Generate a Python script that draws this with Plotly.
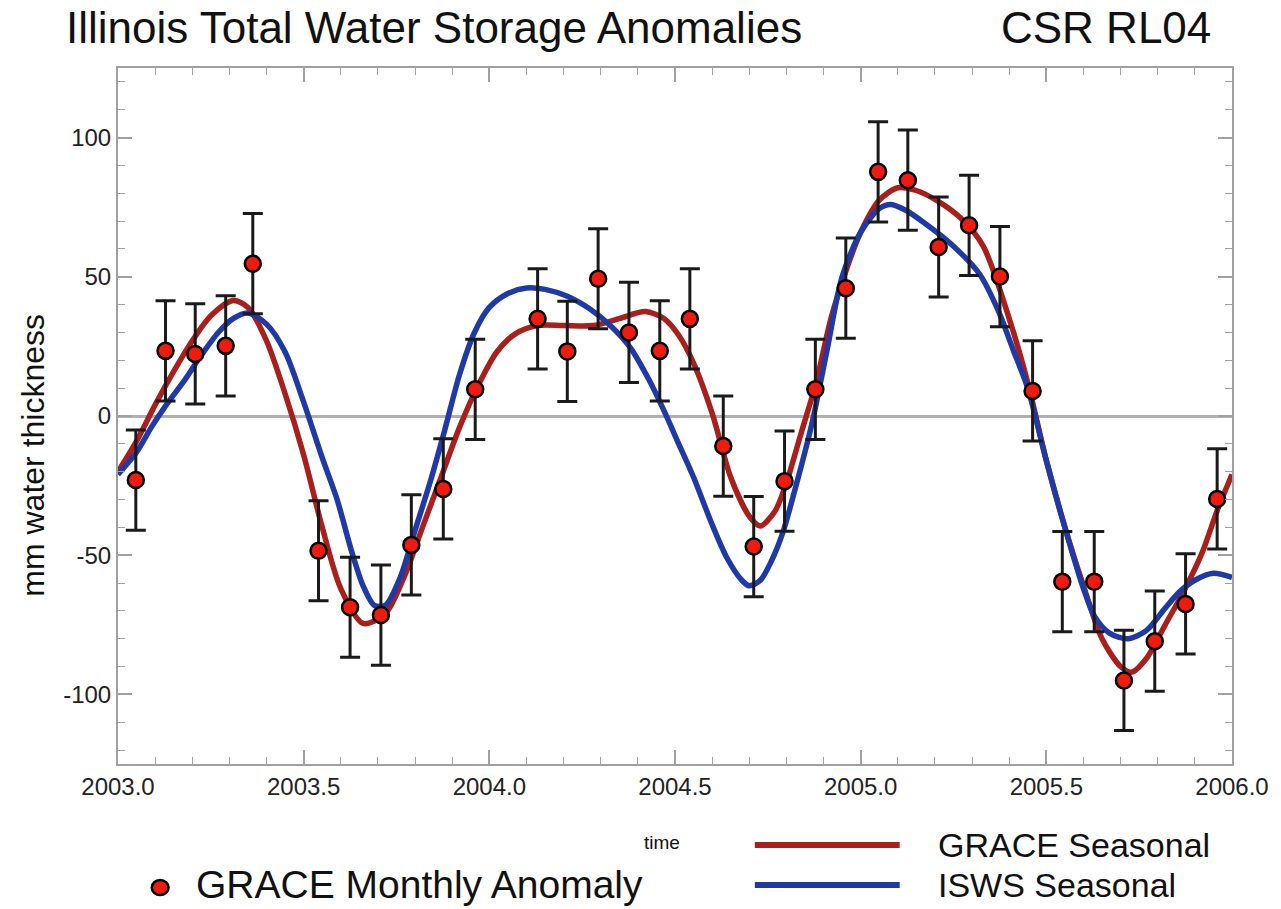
import plotly.graph_objects as go

# ---- data ----
month_t = [2003.048, 2003.128, 2003.208, 2003.290, 2003.363, 2003.540, 2003.625, 2003.708,
           2003.790, 2003.876, 2003.962, 2004.130, 2004.210, 2004.293, 2004.376, 2004.459,
           2004.540, 2004.630, 2004.712, 2004.795, 2004.878, 2004.960, 2005.047, 2005.127,
           2005.210, 2005.292, 2005.375, 2005.463, 2005.543, 2005.629, 2005.709, 2005.792,
           2005.875, 2005.960]
month_v = [-23.0, 23.4, 22.3, 25.2, 54.7, -48.4, -68.7, -71.5,
           -46.3, -26.2, 9.6, 34.9, 23.2, 49.3, 30.0, 23.4,
           34.9, -10.8, -46.9, -23.4, 9.6, 45.9, 87.7, 84.7,
           60.7, 68.5, 50.1, 9.0, -59.5, -59.5, -95.0, -80.9,
           -67.5, -29.8]
month_err = [18, 18, 18, 18, 18, 18, 18, 18,
             18, 18, 18, 18, 18, 18, 18, 18,
             18, 18, 18, 18, 18, 18, 18, 18,
             18, 18, 18, 18, 18, 18, 18, 18,
             18, 18]

grace_t = [2003.00, 2003.05, 2003.10, 2003.15, 2003.20, 2003.25, 2003.31, 2003.35, 2003.40,
           2003.45, 2003.50, 2003.55, 2003.60, 2003.66, 2003.72, 2003.77, 2003.82, 2003.87,
           2003.92, 2003.97, 2004.02, 2004.07, 2004.13, 2004.20, 2004.28, 2004.35, 2004.42,
           2004.47, 2004.51, 2004.55, 2004.60, 2004.65, 2004.70, 2004.73, 2004.77, 2004.80,
           2004.84, 2004.88, 2004.92, 2004.96, 2005.00, 2005.05, 2005.10, 2005.15, 2005.21,
           2005.27, 2005.33, 2005.40, 2005.45, 2005.50, 2005.55, 2005.60, 2005.65, 2005.70,
           2005.73, 2005.77, 2005.82, 2005.87, 2005.92, 2005.96, 2006.00]
grace_v = [-20, -9, 4, 16, 27, 36, 41.5, 39, 27,
           8, -14, -40, -62, -74.5, -71, -58, -40, -22,
           -4, 11, 23, 29.5, 32.5, 32.5, 32.5, 35, 37.5,
           35, 29, 19, 1, -22, -36, -39.5, -34, -24,
           -6, 12, 35, 52, 66, 77.5, 82, 81, 77,
           71, 61, 35, 12, -16, -40, -61, -80, -90,
           -92, -87, -75, -63, -49, -34, -21]

isws_t = [2003.00, 2003.05, 2003.09, 2003.13, 2003.18, 2003.22, 2003.27, 2003.31, 2003.35,
          2003.40, 2003.45, 2003.50, 2003.55, 2003.59, 2003.63, 2003.66, 2003.69, 2003.72,
          2003.76, 2003.80, 2003.84, 2003.88, 2003.92, 2003.96, 2004.00, 2004.05, 2004.10,
          2004.15, 2004.21, 2004.27, 2004.33, 2004.38, 2004.43, 2004.47, 2004.51, 2004.55,
          2004.60, 2004.64, 2004.68, 2004.70, 2004.73, 2004.76, 2004.79, 2004.83, 2004.87,
          2004.91, 2004.95, 2005.00, 2005.05, 2005.08, 2005.12, 2005.17, 2005.25, 2005.32,
          2005.37, 2005.41, 2005.45, 2005.50, 2005.55, 2005.60, 2005.63, 2005.67, 2005.72,
          2005.77, 2005.82, 2005.86, 2005.90, 2005.95, 2006.00]
isws_v = [-21, -13, -4, 4, 13, 21, 30, 35, 37,
          33, 23, 5, -15, -30, -49, -61, -68, -68,
          -58, -41, -24, -5, 15, 30, 39, 44, 46,
          45.5, 43, 38.5, 32, 24.5, 13, 2, -10, -22,
          -39, -51, -59, -61, -59, -52, -42, -23, -2,
          24, 50, 66, 74.5, 76, 74, 69.5, 61, 51,
          38, 24, 10, -16, -40, -62, -72, -78, -80,
          -77, -69, -63, -59, -56.5, -58]

x_ticks = [2003.0, 2003.5, 2004.0, 2004.5, 2005.0, 2005.5, 2006.0]
y_ticks = [-100, -50, 0, 50, 100]

# ---- styles ----
RED_LINE = "#A81F1C"
BLUE_LINE = "#1F3AA6"
DOT_FILL = "#EE1B0E"
FRAME = "#a0a0a0"
FONT = "Liberation Sans, Arial, Helvetica, sans-serif"

W, H = 1281, 909
L, R, T, B = 118, 1241, 68, 764

def px(x):
    return (x - L) / (R - L)

def py(y):
    return (B - y) / (B - T)

fig = go.Figure()

fig.add_trace(go.Scatter(
    x=grace_t, y=grace_v, mode="lines", name="GRACE Seasonal",
    line=dict(color=RED_LINE, width=5.5, shape="spline", smoothing=0.8),
    showlegend=False))
fig.add_trace(go.Scatter(
    x=isws_t, y=isws_v, mode="lines", name="ISWS Seasonal",
    line=dict(color=BLUE_LINE, width=5.5, shape="spline", smoothing=0.8),
    showlegend=False))
fig.add_trace(go.Scatter(
    x=month_t, y=month_v, mode="markers", name="GRACE Monthly Anomaly",
    marker=dict(color=DOT_FILL, size=16, line=dict(color="black", width=2.5)),
    error_y=dict(type="data", array=month_err, visible=True,
                 color="#1a1a1a", thickness=3, width=10),
    showlegend=False))

axis_common = dict(
    showgrid=False, showline=True, linecolor=FRAME, linewidth=2, mirror="allticks",
    ticks="inside", tickcolor=FRAME, tickwidth=1.5, ticklen=14,
    tickfont=dict(family=FONT, size=24, color="#222"),
)

fig.update_xaxes(
    range=[2003.0, 2006.0], tickvals=x_ticks, ticktext=[f"{v:.1f}" for v in x_ticks],
    zeroline=False,
    minor=dict(dtick=0.1, tick0=2003.0, ticks="inside", ticklen=7, tickcolor=FRAME, tickwidth=1.2),
    **axis_common)
fig.update_yaxes(
    range=[-125, 125], tickvals=y_ticks, ticktext=[str(v) for v in y_ticks],
    zeroline=True, zerolinecolor="#b0b0b0", zerolinewidth=2.5,
    minor=dict(dtick=10, tick0=0, ticks="inside", ticklen=7, tickcolor=FRAME, tickwidth=1.2),
    **axis_common)

annotations = [
    dict(text="Illinois Total Water Storage Anomalies", x=px(64), y=py(28), xanchor="left",
         yanchor="middle", font=dict(family=FONT, size=44, color="#111")),
    dict(text="CSR RL04", x=px(1222), y=py(28), xanchor="right", yanchor="middle",
         font=dict(family=FONT, size=44, color="#111")),
    dict(text="mm water thickness", x=px(32), y=py(455), textangle=-90, xanchor="center",
         yanchor="middle", font=dict(family=FONT, size=32, color="#111")),
    dict(text="time", x=px(666), y=py(843), xanchor="center", yanchor="middle",
         font=dict(family=FONT, size=19, color="#111")),
    dict(text="GRACE Seasonal", x=px(943), y=py(845), xanchor="left", yanchor="middle",
         font=dict(family=FONT, size=34, color="#111")),
    dict(text="ISWS Seasonal", x=px(943), y=py(885), xanchor="left", yanchor="middle",
         font=dict(family=FONT, size=34, color="#111")),
    dict(text="GRACE Monthly Anomaly", x=px(195), y=py(884), xanchor="left", yanchor="middle",
         font=dict(family=FONT, size=39, color="#111")),
]
for a in annotations:
    a.update(xref="paper", yref="paper", showarrow=False)

shapes = [
    dict(type="line", xref="paper", yref="paper", x0=px(760), x1=px(906), y0=py(845), y1=py(845),
         line=dict(color=RED_LINE, width=6)),
    dict(type="line", xref="paper", yref="paper", x0=px(760), x1=px(906), y0=py(885), y1=py(885),
         line=dict(color=BLUE_LINE, width=6)),
    dict(type="circle", xref="paper", yref="paper", x0=px(152), x1=px(169), y0=py(895), y1=py(880),
         fillcolor=DOT_FILL, line=dict(color="black", width=2.5)),
]

fig.update_layout(
    width=W, height=H,
    margin=dict(l=L, r=W - R, t=T, b=H - B),
    paper_bgcolor="white", plot_bgcolor="white",
    annotations=annotations, shapes=shapes,
    font=dict(family=FONT),
)

fig.write_html("out.html")
